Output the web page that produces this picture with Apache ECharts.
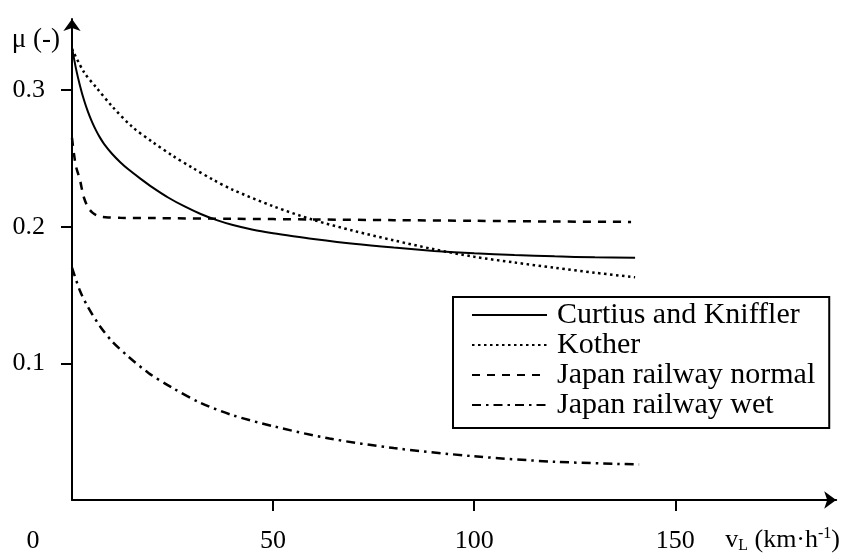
<!DOCTYPE html>
<html>
<head>
<meta charset="utf-8">
<title>Adhesion coefficient vs speed</title>
<script src="https://cdn.jsdelivr.net/npm/echarts@6/dist/echarts.min.js"></script>
<style>
  html, body { margin: 0; padding: 0; background: #fff; }
  #chart { width: 843px; height: 554px; }
</style>
</head>
<body>
<div id="chart"></div>
<script>
// Adhesion coefficient μ against running speed v_L (km/h), pairs [v, μ]
const curtiusKniffler = [
  [0, 0.331], [1, 0.3155], [2, 0.303], [3, 0.2925], [4, 0.2838], [5, 0.2765], [6, 0.2703],
  [7, 0.265], [8, 0.2605], [10, 0.2532], [12, 0.2472], [14, 0.242], [17, 0.2352], [20, 0.2288],
  [24, 0.2212], [28, 0.2148], [32, 0.2093], [36, 0.2048], [40, 0.2012], [45, 0.1978],
  [50, 0.1952], [55, 0.193], [60, 0.191], [70, 0.1875], [80, 0.1847], [90, 0.1823],
  [100, 0.1805], [110, 0.1793], [120, 0.1783], [130, 0.1776], [140, 0.1772]
];
const kother = [
  [0, 0.330], [3, 0.313], [6, 0.302], [10, 0.288], [15, 0.273], [20, 0.262],
  [25, 0.252], [30, 0.243], [35, 0.2345], [40, 0.227], [50, 0.215], [60, 0.205],
  [70, 0.197], [80, 0.190], [90, 0.1835], [100, 0.178], [110, 0.1738], [120, 0.1700],
  [130, 0.1663], [140, 0.163]
];
const japanNormal = [
  [0, 0.265], [0.5, 0.253], [1, 0.244], [1.5, 0.239], [2, 0.234], [2.5, 0.227],
  [3, 0.221], [4, 0.214], [5, 0.2105], [6, 0.2085], [7, 0.2075], [9, 0.2068],
  [12, 0.2065], [20, 0.2063], [40, 0.2058], [60, 0.2053], [80, 0.2048],
  [100, 0.2043], [120, 0.2038], [139, 0.2035]
];
const japanWet = [
  [0, 0.170], [2, 0.153], [4, 0.141], [7, 0.127], [10, 0.116], [14, 0.105],
  [19, 0.093], [25, 0.082], [32, 0.071], [40, 0.062], [50, 0.054], [64, 0.045],
  [80, 0.038], [100, 0.032], [120, 0.028], [141, 0.026]
];
const seriesNames = ['Curtius and Kniffler', 'Kother', 'Japan railway normal', 'Japan railway wet'];
const xTickValues = [50, 100, 150];
const xLabelValues = [0, 50, 100, 150];
const yTickValues = [0.1, 0.2, 0.3];

const FONT = "'Liberation Serif', 'Times New Roman', serif";

const chart = echarts.init(document.getElementById('chart'), null, { renderer: 'canvas' });

const lineSeries = (name, data, type, width) => ({
  name: name,
  type: 'line',
  data: data,
  showSymbol: false,
  symbol: 'none',
  smooth: 0.3,
  silent: true,
  lineStyle: { color: '#000', width: width, type: type, cap: 'butt' },
  itemStyle: { color: '#000' }
});

chart.setOption({
  animation: false,
  backgroundColor: '#fff',
  textStyle: { fontFamily: FONT, color: '#000' },
  grid: { left: 72, right: 6, top: 19, bottom: 54, containLabel: false },
  xAxis: {
    type: 'value',
    min: 0,
    max: 190,
    interval: 50,
    splitLine: { show: false },
    axisLine: {
      show: true, onZero: false,
      symbol: ['none', 'arrow'], symbolSize: [13, 12],
      lineStyle: { color: '#000', width: 2 }
    },
    axisTick: {
      show: true, inside: false, length: 11, customValues: xTickValues,
      lineStyle: { color: '#000', width: 2 }
    },
    axisLabel: {
      customValues: xLabelValues,
      margin: 28,
      fontFamily: FONT, fontSize: 26, color: '#000',
      formatter: v => (v === 0 ? '{o|0}' : String(v)),
      rich: { o: { fontFamily: FONT, fontSize: 26, color: '#000', padding: [0, 78, 0, 0] } }
    },
    name: 'v{sub|L} (km·h{sup|-1})',
    nameLocation: 'end',
    nameGap: -111,
    nameTextStyle: {
      fontFamily: FONT, fontSize: 26, color: '#000',
      align: 'left', verticalAlign: 'top', padding: [26, 0, 0, 0],
      rich: {
        sub: { fontFamily: FONT, fontSize: 16, color: '#000', verticalAlign: 'bottom', padding: [12, 0, 0, 0] },
        sup: { fontFamily: FONT, fontSize: 16, color: '#000', verticalAlign: 'top', padding: [0, 0, 10, 0] }
      }
    }
  },
  yAxis: {
    type: 'value',
    min: 0,
    max: 0.352,
    interval: 0.1,
    splitLine: { show: false },
    axisLine: {
      show: true, onZero: false,
      symbol: ['none', 'arrow'], symbolSize: [13, 12],
      lineStyle: { color: '#000', width: 2 }
    },
    axisTick: {
      show: true, inside: false, length: 11, customValues: yTickValues,
      lineStyle: { color: '#000', width: 2 }
    },
    axisLabel: {
      customValues: yTickValues,
      margin: 27,
      fontFamily: FONT, fontSize: 26, color: '#000',
      formatter: v => v.toFixed(1)
    },
    name: 'μ (-)',
    nameLocation: 'end',
    nameGap: -21,
    nameTextStyle: {
      fontFamily: FONT, fontSize: 27, color: '#000',
      align: 'right', verticalAlign: 'middle', padding: [0, 12, 0, 0]
    }
  },
  legend: {
    data: seriesNames,
    orient: 'vertical',
    left: 453,
    top: 297,
    padding: [3, 14, 8, 18],
    itemGap: 0,
    itemWidth: 75,
    itemHeight: 14,
    borderColor: '#000',
    borderWidth: 2,
    borderRadius: 0,
    selectedMode: false,
    itemStyle: { opacity: 0, borderWidth: 0 },
    textStyle: { fontFamily: FONT, fontSize: 30, lineHeight: 29.6, color: '#000', padding: [0, 0, 0, 5] }
  },
  series: [
    lineSeries(seriesNames[0], curtiusKniffler, 'solid', 2),
    lineSeries(seriesNames[1], kother, [2.5, 3.5], 2.5),
    lineSeries(seriesNames[2], japanNormal, [8, 7], 2.5),
    lineSeries(seriesNames[3], japanWet, [9, 5, 2.5, 5], 2.5)
  ]
});
</script>
</body>
</html>
